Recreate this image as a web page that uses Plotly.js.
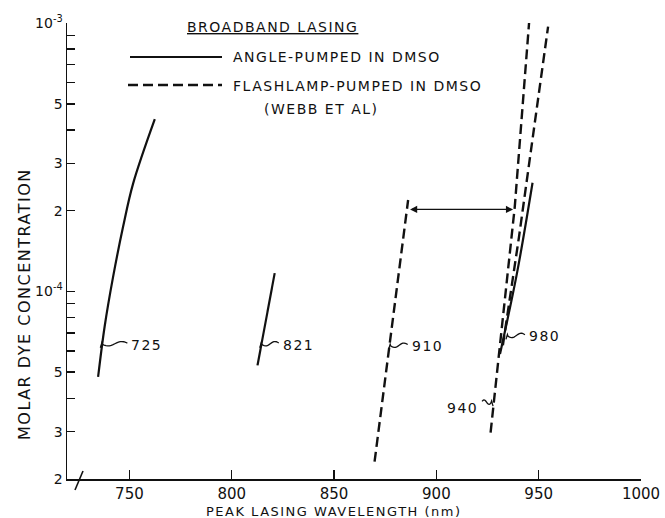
<!DOCTYPE html>
<html><head><meta charset="utf-8">
<script src="https://cdn.plot.ly/plotly-3.0.1.min.js"></script>
<style>
body{margin:0;background:#fff}
#chart{width:665px;height:518px}
.annotation-text{letter-spacing:1.5px}
</style></head><body><div id="chart"></div>
<script>
// ---- data ----
const wl725 = [734.7, 737.9, 742.0, 746.9, 751.8, 762.4];
const c725  = [4.8e-5, 7.4e-5, 1.13e-4, 1.74e-4, 2.52e-4, 4.38e-4];
const wl821 = [812.6, 821.0];
const c821  = [5.3e-5, 1.17e-4];
const wl980solid = [931.1, 939.4, 947.0];
const c980solid  = [5.85e-5, 1.17e-4, 2.54e-4];
const wl910 = [869.8, 886.2];
const c910  = [2.32e-5, 2.19e-4];
const wl940 = [926.5, 938.3, 945.3];
const c940  = [2.98e-5, 2.06e-4, 1.0e-3];
const wl980dash = [932.5, 940.4, 954.6];
const c980dash  = [6.3e-5, 1.6e-4, 9.7e-4];

const arrowWl = [886.4, 937.5];
const arrowC = 2.02e-4;

const labelText = ['725', '821', '910', '980', '940'];
const labelWl   = [735.8, 813.7, 876.7, 934.0, 927.7];
const labelC    = [6.22e-5, 6.22e-5, 6.14e-5, 6.68e-5, 3.77e-5];
const labelDir  = [1, 1, 1, 1, -1];

const xTickVals = [750, 800, 850, 900, 950, 1000];
const yTickVals = [2e-5,3e-5,4e-5,5e-5,6e-5,7e-5,8e-5,9e-5,1e-4,2e-4,3e-4,4e-4,5e-4,6e-4,7e-4,8e-4,9e-4,1e-3];
const yTickText = ['2','3','','5','','','','','10<sup>-4</sup>','2','3','','5','','','','','10<sup>-3</sup>'];

const legendTitle = 'BROADBAND LASING';
const legendNames = ['ANGLE-PUMPED IN DMSO', 'FLASHLAMP-PUMPED IN DMSO', '(WEBB ET AL)'];

// ---- geometry ----
const M = {l:67, r:24, t:23, b:39};
const W = 665 - M.l - M.r, H = 518 - M.t - M.b;
const xRange = [719.5, 1000];
const yRange = [Math.log10(2e-5), -3];
const ink = '#111';
const FONT = 'DejaVu Sans, sans-serif';

function pxX(px){ return (px - M.l) / W; }
function pxY(py){ return (518 - M.b - py) / H; }
function dataPx(wl, c){
  return [M.l + (wl - xRange[0]) / (xRange[1]-xRange[0]) * W,
          518 - M.b - (Math.log10(c) - yRange[0]) / (yRange[1]-yRange[0]) * H];
}

const solid = {color: ink, width: 2.2};
const dashed = {color: ink, width: 2.4, dash: '10px,5px'};
const traces = [
  {x: wl725, y: c725, mode:'lines', line: Object.assign({shape:'spline'}, solid)},
  {x: wl821, y: c821, mode:'lines', line: solid},
  {x: wl980solid, y: c980solid, mode:'lines', line: Object.assign({shape:'spline'}, solid)},
  {x: wl910, y: c910, mode:'lines', line: dashed},
  {x: wl940, y: c940, mode:'lines', line: dashed},
  {x: wl980dash, y: c980dash, mode:'lines', line: dashed}
];

const shapes = [];
const annotations = [];

// label squiggles
labelText.forEach((t, i) => {
  const [ax, ay] = dataPx(labelWl[i], labelC[i]);
  const s = labelDir[i];
  const L = (i === 0) ? 27 : (s < 0 ? 11 : 19);
  let pts = [[ax, ay + 1], [ax + s*1.5, ay - 4]];
  const n = 14;
  for (let k = 0; k <= n; k++) {
    const f = k / n;
    const x = ax + s*(2 + (L - 2) * f);
    const y = ay - 3 + 2.2 * Math.sin(Math.PI * 2 * f * 0.9 + 0.3);
    pts.push([x, y]);
  }
  let d = 'M' + pts.map(p => pxX(p[0]).toFixed(5) + ',' + pxY(p[1]).toFixed(5)).join(' L');
  shapes.push({type:'path', xref:'paper', yref:'paper', path: d, line:{color: ink, width: 1.3}});
  annotations.push({x: labelWl[i], y: Math.log10(labelC[i]), xref:'x', yref:'y', text: t, showarrow:false,
    xanchor: s > 0 ? 'left' : 'right', yanchor:'middle', xshift: s*(L + 2), yshift: s > 0 ? 2 : -3,
    font:{family: FONT, size: 14, color: ink}});
});

// double-headed arrow
annotations.push({x: arrowWl[1], y: Math.log10(arrowC), ax: arrowWl[0], ay: Math.log10(arrowC),
  xref:'x', yref:'y', axref:'x', ayref:'y', text:'', showarrow:true, arrowhead:2, arrowside:'end+start',
  arrowsize:1.1, arrowwidth:1.3, arrowcolor: ink, standoff:0, startstandoff:0});

// legend
annotations.push({x: pxX(185), y: pxY(27), xref:'paper', yref:'paper', text: legendTitle, showarrow:false,
  xanchor:'left', yanchor:'middle', font:{family: FONT, size: 14, color: ink, lineposition:'under'}});
shapes.push({type:'line', xref:'paper', yref:'paper', x0: pxX(130), x1: pxX(222), y0: pxY(57), y1: pxY(57), line:{color: ink, width: 2.2}});
shapes.push({type:'line', xref:'paper', yref:'paper', x0: pxX(128), x1: pxX(222), y0: pxY(85), y1: pxY(85), line:{color: ink, width: 2.4, dash:'10px,5px'}});
annotations.push({x: pxX(231), y: pxY(57), xref:'paper', yref:'paper', text: legendNames[0], showarrow:false,
  xanchor:'left', yanchor:'middle', font:{family: FONT, size: 14, color: ink}});
annotations.push({x: pxX(231), y: pxY(86), xref:'paper', yref:'paper', text: legendNames[1], showarrow:false,
  xanchor:'left', yanchor:'middle', font:{family: FONT, size: 14, color: ink}});
annotations.push({x: pxX(321), y: pxY(109), xref:'paper', yref:'paper', text: legendNames[2], showarrow:false,
  xanchor:'center', yanchor:'middle', font:{family: FONT, size: 14, color: ink}});

// axis titles
annotations.push({x: pxX(334), y: pxY(511), xref:'paper', yref:'paper', text: 'PEAK LASING WAVELENGTH (nm)', showarrow:false,
  xanchor:'center', yanchor:'middle', font:{family: FONT, size: 13, color: ink}});
annotations.push({x: pxX(24), y: pxY(304), xref:'paper', yref:'paper', text: 'MOLAR DYE CONCENTRATION', showarrow:false,
  textangle:-90, xanchor:'center', yanchor:'middle', font:{family: FONT, size: 16, color: ink}});

// axis break mark
shapes.push({type:'line', xref:'paper', yref:'paper', x0: pxX(75), y0: pxY(490), x1: pxX(83), y1: pxY(471), line:{color: ink, width: 1.6}});

const layout = {
  width: 665, height: 518,
  margin: M,
  paper_bgcolor:'#fff', plot_bgcolor:'#fff',
  showlegend: false,
  font: {family: FONT, color: ink},
  xaxis: {range: xRange, tickvals: xTickVals, ticks:'inside', ticklen: 9, tickwidth: 1.4, tickcolor: ink,
    showline: true, linecolor: ink, linewidth: 1.5, showgrid: false, zeroline: false,
    tickfont: {family: FONT, size: 15, color: ink}, fixedrange: true},
  yaxis: {type:'log', range: yRange, tickvals: yTickVals, ticktext: yTickText, ticks:'inside', ticklen: 8,
    tickwidth: 1.4, tickcolor: ink, showline: true, linecolor: ink, linewidth: 1.5, showgrid: false, zeroline: false,
    tickfont: {family: FONT, size: 14, color: ink}, fixedrange: true},
  shapes: shapes,
  annotations: annotations
};

Plotly.newPlot('chart', traces, layout, {displayModeBar: false, staticPlot: true});
</script></body></html>
